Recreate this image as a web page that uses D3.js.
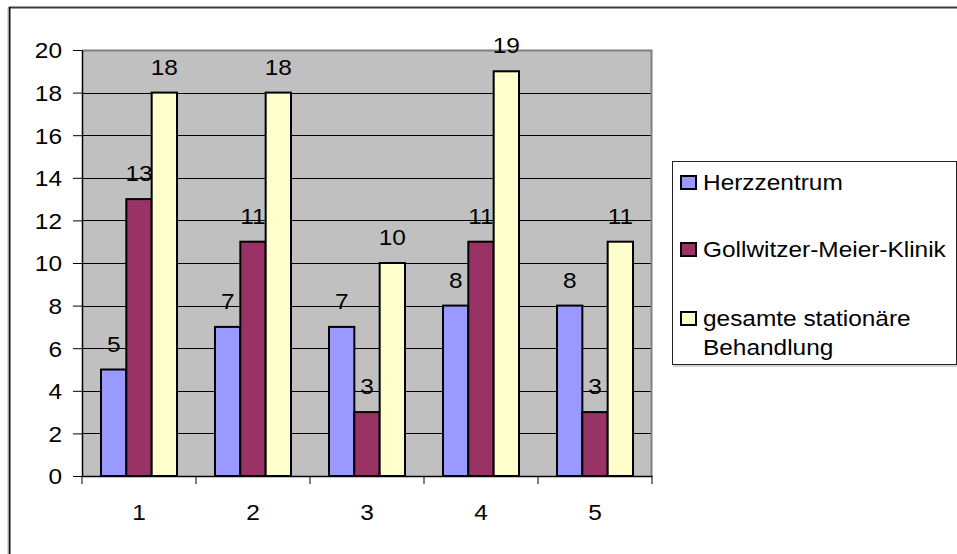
<!DOCTYPE html>
<html>
<head>
<meta charset="utf-8">
<script src="https://cdn.jsdelivr.net/npm/d3@7"></script>
<style>
  html, body { margin: 0; padding: 0; background: #ffffff; }
  svg { display: block; }
</style>
</head>
<body>
<svg id="chart" width="957" height="554"></svg>
<script>
// Data
const categories = ["1", "2", "3", "4", "5"];
const seriesNames = ["Herzzentrum", "Gollwitzer-Meier-Klinik", "gesamte stationäre Behandlung"];
const herzzentrum = [5, 7, 7, 8, 8];
const gollwitzer = [13, 11, 3, 11, 3];
const gesamt = [18, 18, 10, 19, 11];
const yTicks = [0, 2, 4, 6, 8, 10, 12, 14, 16, 18, 20];
const legendLines = [["Herzzentrum"], ["Gollwitzer-Meier-Klinik"], ["gesamte stationäre", "Behandlung"]];

const seriesValues = [herzzentrum, gollwitzer, gesamt];
const colors = ["#9999ff", "#993366", "#ffffcc"];

const FONT = "'Liberation Sans', Arial, sans-serif";
const FS = 22;
const SX = 1.11; // horizontal stretch of the text

const svg = d3.select("#chart");

// outer chart frame (cut at right and bottom)
svg.append("line").attr("x1", 9).attr("x2", 957).attr("y1", 7.5).attr("y2", 7.5)
  .attr("stroke", "#3c3c3c").attr("stroke-width", 2);
svg.append("line").attr("x1", 9.5).attr("x2", 9.5).attr("y1", 7).attr("y2", 554)
  .attr("stroke", "#111").attr("stroke-width", 2);
svg.append("line").attr("x1", 8).attr("x2", 8).attr("y1", 8).attr("y2", 554)
  .attr("stroke", "#bbb").attr("stroke-width", 1);

const plot = { left: 82, top: 50, right: 652, bottom: 476 };

const x0 = d3.scaleBand().domain(categories).range([plot.left, plot.right]).paddingInner(0).paddingOuter(0);
const x1 = d3.scaleBand().domain(d3.range(seriesNames.length)).range([0, x0.bandwidth()])
  .paddingInner(0).paddingOuter(0.75);
const y = d3.scaleLinear().domain([0, 20]).range([plot.bottom, plot.top]);

// plot background
svg.append("rect")
  .attr("x", plot.left).attr("y", plot.top)
  .attr("width", plot.right - plot.left).attr("height", plot.bottom - plot.top)
  .attr("fill", "#c0c0c0");

// gridlines
svg.append("g").selectAll("line").data(yTicks.filter(v => v > 0 && v < 20)).join("line")
  .attr("x1", plot.left).attr("x2", plot.right)
  .attr("y1", d => Math.round(y(d)) + 0.5).attr("y2", d => Math.round(y(d)) + 0.5)
  .attr("stroke", "#000").attr("stroke-width", 1);

// plot border (top and right)
svg.append("path")
  .attr("d", `M${plot.left},${plot.top + 0.5}H${plot.right - 0.5}V${plot.bottom}`)
  .attr("fill", "none").attr("stroke", "#808080").attr("stroke-width", 2);

// helper for stretched text
function stretchText(sel) {
  sel.each(function () {
    const t = d3.select(this);
    const tx = +t.attr("x") || 0;
    const ty = +t.attr("y") || 0;
    t.attr("x", 0).attr("y", 0).attr("transform", `translate(${tx},${ty}) scale(${SX},1)`);
  });
}

// bars
const groups = svg.append("g").selectAll("g").data(categories).join("g")
  .attr("transform", d => `translate(${x0(d)},0)`);

groups.selectAll("rect")
  .data((c, ci) => seriesValues.map((vals, si) => ({ si, v: vals[ci] })))
  .join("rect")
  .attr("x", d => x1(d.si))
  .attr("y", d => y(d.v))
  .attr("width", x1.bandwidth())
  .attr("height", d => y(0) - y(d.v))
  .attr("fill", d => colors[d.si])
  .attr("stroke", "#000").attr("stroke-width", 2);

// value labels
groups.selectAll("text")
  .data((c, ci) => seriesValues.map((vals, si) => ({ si, v: vals[ci] })))
  .join("text")
  .attr("x", d => x1(d.si) + x1.bandwidth() / 2)
  .attr("y", d => y(d.v) - 18)
  .attr("text-anchor", "middle")
  .attr("font-family", FONT).attr("font-size", FS).attr("fill", "#000")
  .text(d => d.v)
  .call(stretchText);

// y axis
const yAxis = svg.append("g")
  .attr("transform", `translate(${plot.left},0)`)
  .call(d3.axisLeft(y).tickValues(yTicks).tickSize(9).tickPadding(11).tickSizeOuter(0));
yAxis.select(".domain").attr("stroke", "#000").attr("stroke-width", 1.5);
yAxis.selectAll(".tick line").attr("stroke", "#000").attr("stroke-width", 1);
yAxis.selectAll(".tick text")
  .attr("font-family", FONT).attr("font-size", FS).attr("fill", "#000")
  .attr("dy", "0.36em")
  .each(function () {
    const t = d3.select(this);
    const tx = +t.attr("x");
    t.attr("x", 0).attr("transform", `translate(${tx},0) scale(${SX},1)`);
  });

// x axis
const xAxis = svg.append("g")
  .attr("transform", `translate(0,${plot.bottom})`)
  .call(d3.axisBottom(x0).tickSize(0).tickPadding(28));
xAxis.select(".domain").attr("stroke", "#000").attr("stroke-width", 1.5);
xAxis.selectAll(".tick text")
  .attr("font-family", FONT).attr("font-size", FS).attr("fill", "#000")
  .attr("dy", "0.71em")
  .each(function () {
    const t = d3.select(this);
    const ty = +t.attr("y");
    t.attr("y", 0).attr("transform", `translate(0,${ty}) scale(${SX},1)`);
  });
// x tick marks on the category boundaries
xAxis.append("g").selectAll("line")
  .data(categories.map(c => x0(c)).concat([plot.right]))
  .join("line")
  .attr("x1", d => d).attr("x2", d => d)
  .attr("y1", 0).attr("y2", 8)
  .attr("stroke", "#000").attr("stroke-width", 1);

// legend
const legend = svg.append("g");
legend.append("rect")
  .attr("x", 672.5).attr("y", 161.5).attr("width", 284).attr("height", 203)
  .attr("fill", "#fff").attr("stroke", "#222").attr("stroke-width", 1);
legend.append("line").attr("x1", 673).attr("x2", 957).attr("y1", 366).attr("y2", 366)
  .attr("stroke", "#aaa").attr("stroke-width", 1);

const rowBase = [190, 257, 326];
legendLines.forEach((lines, i) => {
  legend.append("rect")
    .attr("x", 681).attr("y", rowBase[i] - 14)
    .attr("width", 15).attr("height", 13)
    .attr("fill", colors[i]).attr("stroke", "#000").attr("stroke-width", 2);
  lines.forEach((ln, j) => {
    legend.append("text")
      .attr("x", 703).attr("y", rowBase[i] + j * 29)
      .attr("font-family", FONT).attr("font-size", FS).attr("fill", "#000")
      .text(ln)
      .call(stretchText);
  });
});
</script>
</body>
</html>
